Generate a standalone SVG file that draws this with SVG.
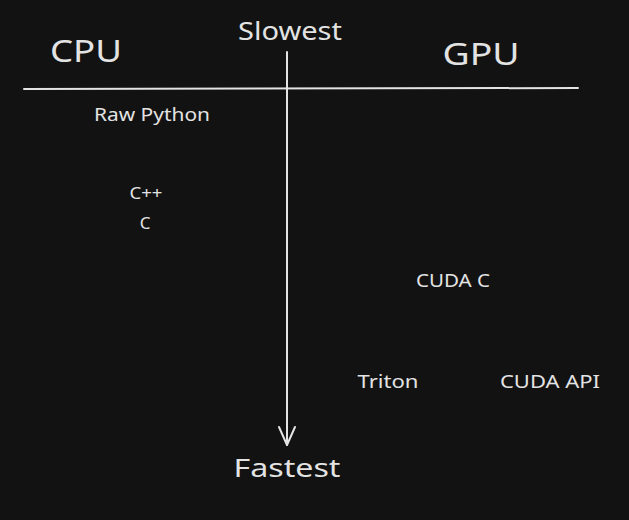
<svg xmlns="http://www.w3.org/2000/svg" width="629" height="520" viewBox="0 0 629 520">
<style>
.t{fill:#e3e3e3;font-family:"Noto Sans","Liberation Sans",sans-serif;text-anchor:middle}
.l{stroke:#e3e3e3;stroke-width:2;fill:none;stroke-linecap:round;stroke-linejoin:round}
</style>
<rect width="629" height="520" fill="#121212"/>
<g id="connectors">
<path class="l" d="M24 89 L578 88"/>
<path class="l" d="M287 52 L287 445"/>
<path class="l" d="M279 427 L287 445 L295 427"/>
</g>
<g id="cpu"><text class="t" x="86" y="62" font-size="30" textLength="72" lengthAdjust="spacingAndGlyphs">CPU</text></g>
<g id="slowest"><text class="t" x="290" y="40" font-size="26" textLength="104" lengthAdjust="spacingAndGlyphs">Slowest</text></g>
<g id="gpu"><text class="t" x="481" y="65" font-size="30" textLength="77" lengthAdjust="spacingAndGlyphs">GPU</text></g>
<g id="raw-python"><text class="t" x="152" y="121" font-size="18" textLength="116" lengthAdjust="spacingAndGlyphs">Raw Python</text></g>
<g id="cpp"><text class="t" x="146" y="199" font-size="17" textLength="33" lengthAdjust="spacingAndGlyphs">C++</text></g>
<g id="c"><text class="t" x="145" y="229" font-size="17">C</text></g>
<g id="cuda-c"><text class="t" x="453" y="287" font-size="18" textLength="74" lengthAdjust="spacingAndGlyphs">CUDA C</text></g>
<g id="triton"><text class="t" x="388" y="388" font-size="18" textLength="61" lengthAdjust="spacingAndGlyphs">Triton</text></g>
<g id="cuda-api"><text class="t" x="550" y="388" font-size="18" textLength="100" lengthAdjust="spacingAndGlyphs">CUDA API</text></g>
<g id="fastest"><text class="t" x="287" y="477" font-size="26" textLength="107" lengthAdjust="spacingAndGlyphs">Fastest</text></g>
</svg>
